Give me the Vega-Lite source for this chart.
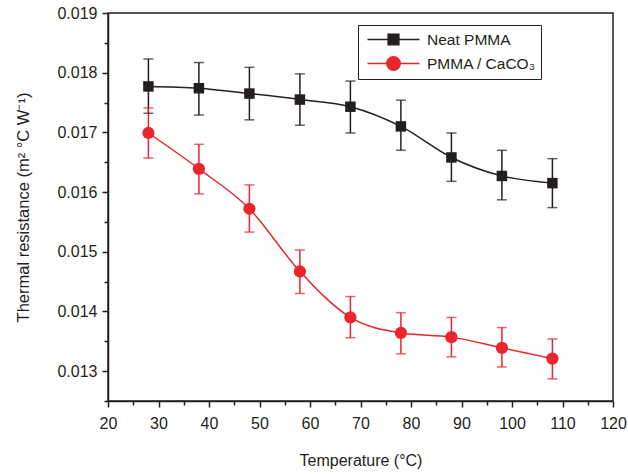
{
  "$schema": "https://vega.github.io/schema/vega-lite/v6.json",
  "width": 505,
  "height": 388,
  "autosize": "none",
  "padding": {"left": 108, "top": 13, "right": 15, "bottom": 73},
  "background": "white",
  "config": {
    "font": "Liberation Sans",
    "view": {"stroke": "#231f20", "strokeWidth": 1.5}
  },
  "data": {
    "values": [
      {"series": "Neat PMMA", "t": 28, "r": 0.01777, "lo": 0.01732, "hi": 0.01823},
      {"series": "Neat PMMA", "t": 38, "r": 0.01774, "lo": 0.01729, "hi": 0.01817},
      {"series": "Neat PMMA", "t": 48, "r": 0.01765, "lo": 0.01721, "hi": 0.01809},
      {"series": "Neat PMMA", "t": 58, "r": 0.01755, "lo": 0.01712, "hi": 0.01798},
      {"series": "Neat PMMA", "t": 68, "r": 0.01743, "lo": 0.01699, "hi": 0.01786},
      {"series": "Neat PMMA", "t": 78, "r": 0.01710, "lo": 0.01670, "hi": 0.01754},
      {"series": "Neat PMMA", "t": 88, "r": 0.01658, "lo": 0.01618, "hi": 0.01699},
      {"series": "Neat PMMA", "t": 98, "r": 0.01627, "lo": 0.01587, "hi": 0.01670},
      {"series": "Neat PMMA", "t": 108, "r": 0.01615, "lo": 0.01574, "hi": 0.01656},
      {"series": "PMMA / CaCO₃", "t": 28, "r": 0.01699, "lo": 0.01657, "hi": 0.01741},
      {"series": "PMMA / CaCO₃", "t": 38, "r": 0.01639, "lo": 0.01597, "hi": 0.01680},
      {"series": "PMMA / CaCO₃", "t": 48, "r": 0.01572, "lo": 0.01533, "hi": 0.01612},
      {"series": "PMMA / CaCO₃", "t": 58, "r": 0.01467, "lo": 0.01430, "hi": 0.01503},
      {"series": "PMMA / CaCO₃", "t": 68, "r": 0.01390, "lo": 0.01356, "hi": 0.01425},
      {"series": "PMMA / CaCO₃", "t": 78, "r": 0.01364, "lo": 0.01329, "hi": 0.01398},
      {"series": "PMMA / CaCO₃", "t": 88, "r": 0.01357, "lo": 0.01324, "hi": 0.01390},
      {"series": "PMMA / CaCO₃", "t": 98, "r": 0.01339, "lo": 0.01307, "hi": 0.01373},
      {"series": "PMMA / CaCO₃", "t": 108, "r": 0.01321, "lo": 0.01287, "hi": 0.01354}
    ]
  },
  "encoding": {
    "x": {
      "field": "t",
      "type": "quantitative",
      "scale": {"domain": [20, 120], "nice": false, "zero": false},
      "axis": {
        "title": "Temperature (°C)",
        "values": [20, 25, 30, 35, 40, 45, 50, 55, 60, 65, 70, 75, 80, 85, 90, 95, 100, 105, 110, 115, 120],
        "labelExpr": "datum.value % 10 === 0 ? datum.label : ''",
        "tickSize": {"condition": {"test": "datum.value % 10 === 0", "value": 6}, "value": 4},
        "grid": false,
        "domainColor": "#231f20",
        "domainWidth": 1.5,
        "tickColor": "#231f20",
        "tickWidth": 1.5,
        "labelColor": "#231f20",
        "labelFontSize": 16,
        "labelPadding": 8,
        "labelFlush": false,
        "labelOverlap": false,
        "titleColor": "#231f20",
        "titleFontSize": 16,
        "titleFontWeight": "normal",
        "titlePadding": 21
      }
    },
    "y": {
      "field": "r",
      "type": "quantitative",
      "scale": {"domain": [0.0125, 0.019], "nice": false, "zero": false},
      "axis": {
        "title": "Thermal resistance (m² °C W⁻¹)",
        "values": [0.0125, 0.013, 0.0135, 0.014, 0.0145, 0.015, 0.0155, 0.016, 0.0165, 0.017, 0.0175, 0.018, 0.0185, 0.019],
        "labelExpr": "round(datum.value * 2000) % 2 === 0 ? format(datum.value, '.3f') : ''",
        "tickSize": {"condition": {"test": "round(datum.value * 2000) % 2 === 0", "value": 6}, "value": 4},
        "grid": false,
        "domainColor": "#231f20",
        "domainWidth": 1.5,
        "tickColor": "#231f20",
        "tickWidth": 1.5,
        "labelColor": "#231f20",
        "labelFontSize": 16,
        "labelPadding": 5,
        "labelFlush": false,
        "labelOverlap": false,
        "titleColor": "#231f20",
        "titleFontSize": 16.5,
        "titleFontWeight": "normal",
        "titlePadding": 25
      }
    },
    "color": {
      "field": "series",
      "type": "nominal",
      "scale": {"domain": ["Neat PMMA", "PMMA / CaCO₃"], "range": ["#231f20", "#e8262b"]},
      "legend": {
        "title": null,
        "orient": "none",
        "legendX": 250,
        "legendY": 12,
        "padding": 5,
        "strokeColor": "#231f20",
        "fillColor": "white",
        "cornerRadius": 0,
        "labelFontSize": 15.5,
        "labelColor": "#231f20",
        "labelFont": "Liberation Sans",
        "labelExpr": "datum.label + '  '",
        "rowPadding": 5,
        "symbolSize": 300,
        "symbolOffset": 21,
        "labelOffset": 24,
        "symbolType": "M-3,0H3M-0.64,-0.64H0.64V0.64H-0.64Z",
        "symbolStrokeWidth": 1.5,
        "symbolOpacity": 1,
        "encode": {
          "symbols": {
            "update": {
              "shape": {"signal": "datum.value === 'Neat PMMA' ? 'M-3,0H3M-0.62,-0.62H0.62V0.62H-0.62Z' : 'M-3,0H3M0.78,0A0.78,0.78,0,1,1,-0.78,0A0.78,0.78,0,1,1,0.78,0Z'"},
              "fill": {"signal": "datum.value === 'Neat PMMA' ? '#231f20' : '#e8262b'"},
              "stroke": {"signal": "datum.value === 'Neat PMMA' ? '#231f20' : '#e8262b'"},
              "strokeWidth": {"value": 1.5},
              "opacity": {"value": 1}
            }
          }
        }
      }
    }
  },
  "layer": [
    {
      "mark": {"type": "line", "interpolate": "monotone", "strokeWidth": 1.5}
    },
    {
      "mark": {"type": "rule", "strokeWidth": 1.5},
      "encoding": {
        "y": {"field": "lo", "type": "quantitative"},
        "y2": {"field": "hi"}
      }
    },
    {
      "mark": {"type": "tick", "orient": "horizontal", "size": 10, "thickness": 1.5},
      "encoding": {
        "y": {"field": "lo", "type": "quantitative"}
      }
    },
    {
      "mark": {"type": "tick", "orient": "horizontal", "size": 10, "thickness": 1.5},
      "encoding": {
        "y": {"field": "hi", "type": "quantitative"}
      }
    },
    {
      "transform": [{"filter": "datum.series === 'Neat PMMA'"}],
      "mark": {"type": "point", "shape": "square", "filled": true, "size": 110, "opacity": 1}
    },
    {
      "transform": [{"filter": "datum.series !== 'Neat PMMA'"}],
      "mark": {"type": "point", "shape": "circle", "filled": true, "size": 150, "opacity": 1}
    }
  ]
}
